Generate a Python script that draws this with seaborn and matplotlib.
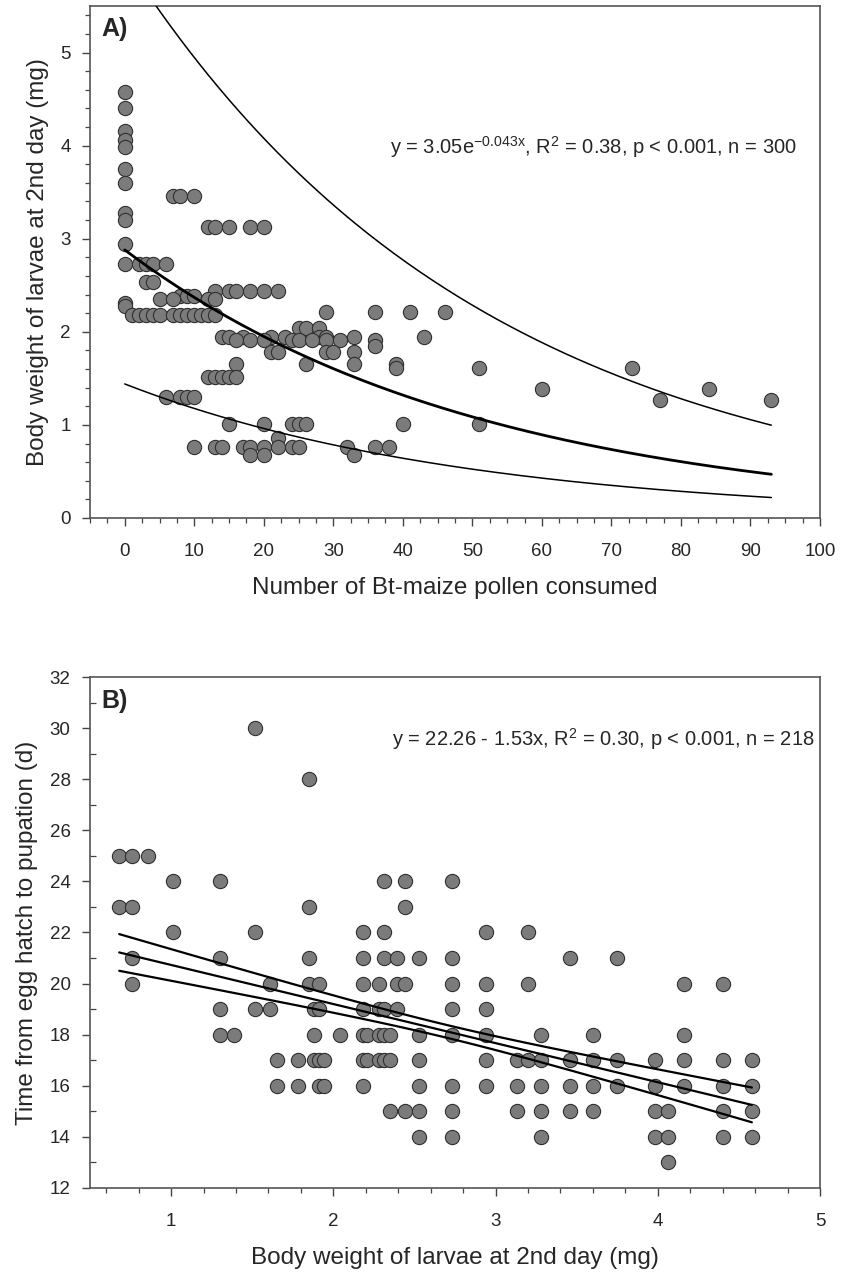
import numpy as np
import pandas as pd
import matplotlib
matplotlib.use('Agg')
import matplotlib.pyplot as plt
from matplotlib.ticker import MultipleLocator
import seaborn as sns

sns.set_style('ticks')
plt.rcParams['font.family'] = ['Liberation Sans', 'DejaVu Sans']

# ---- panel A: pollen consumed vs body weight at 2nd day ----
a_pollen = [0, 0, 0, 0, 0, 0, 0,
            7, 8, 10,
            0, 0,
            12, 13, 15, 18, 20,
            0,
            0, 2, 3, 4, 6,
            3, 4,
            13, 15, 16, 18, 20, 22,
            8, 9, 10,
            5, 7, 12, 13,
            0, 0,
            29, 36, 41, 46,
            1, 2, 3, 4, 5, 7, 8, 9, 10, 11, 12, 13,
            25, 26, 28,
            14, 15, 17, 21, 23, 28, 29, 33, 43,
            16, 18, 20, 24, 25, 27, 29, 31, 36,
            36,
            21, 22, 29, 30, 33,
            16, 26, 33, 39,
            39, 51, 73,
            12, 13, 14, 15, 16,
            60, 84,
            6, 8, 9, 10,
            77, 93,
            15, 20, 24, 25, 26, 40, 51,
            22,
            10, 13, 14, 17, 18, 20, 22, 24, 25, 32, 36, 38,
            18, 20, 33]
a_weight = [4.58, 4.40, 4.16, 4.06, 3.98, 3.75, 3.60,
            3.46, 3.46, 3.46,
            3.28, 3.20,
            3.13, 3.13, 3.13, 3.13, 3.13,
            2.94,
            2.73, 2.73, 2.73, 2.73, 2.73,
            2.53, 2.53,
            2.44, 2.44, 2.44, 2.44, 2.44, 2.44,
            2.39, 2.39, 2.39,
            2.35, 2.35, 2.35, 2.35,
            2.31, 2.28,
            2.21, 2.21, 2.21, 2.21,
            2.18, 2.18, 2.18, 2.18, 2.18, 2.18, 2.18, 2.18, 2.18, 2.18, 2.18, 2.18,
            2.04, 2.04, 2.04,
            1.94, 1.94, 1.94, 1.94, 1.94, 1.94, 1.94, 1.94, 1.94,
            1.91, 1.91, 1.91, 1.91, 1.91, 1.91, 1.91, 1.91, 1.91,
            1.85,
            1.78, 1.78, 1.78, 1.78, 1.78,
            1.65, 1.65, 1.65, 1.65,
            1.61, 1.61, 1.61,
            1.52, 1.52, 1.52, 1.52, 1.52,
            1.39, 1.39,
            1.30, 1.30, 1.30, 1.30,
            1.27, 1.27,
            1.01, 1.01, 1.01, 1.01, 1.01, 1.01, 1.01,
            0.86,
            0.76, 0.76, 0.76, 0.76, 0.76, 0.76, 0.76, 0.76, 0.76, 0.76, 0.76, 0.76,
            0.68, 0.68, 0.68]

# exponential fit and band curves: (start value, decay rate)
a_fit = [2.88, 0.0195]
a_upper = [6.0, 0.0193]
a_lower = [1.44, 0.0202]
a_fit_range = [0, 93]

# ---- panel B: body weight vs days to pupation ----
b_weight = [0.68, 0.76, 0.86,
            1.01, 1.30, 2.31, 2.44, 2.73,
            0.68, 0.76, 1.85, 2.44,
            1.01, 1.52, 2.18, 2.31, 2.94, 3.20,
            0.76, 1.30, 1.85, 2.18, 2.31, 2.39, 2.53, 2.73, 3.46, 3.75,
            0.76, 1.61, 1.85, 1.91, 2.18, 2.28, 2.39, 2.44, 2.73, 2.94, 3.20, 4.16, 4.40,
            1.30, 1.52, 1.61, 1.88, 1.91, 2.18, 2.28, 2.31, 2.39, 2.73, 2.94,
            1.30, 1.39, 1.88, 2.04, 2.18, 2.21, 2.28, 2.31, 2.35, 2.53, 2.73, 2.94, 3.28, 3.60, 4.16,
            1.65, 1.78, 1.88, 1.91, 1.94, 2.18, 2.21, 2.28, 2.31, 2.35, 2.53, 2.94, 3.13, 3.20,
            3.28, 3.46, 3.60, 3.75, 3.98, 4.16, 4.40, 4.58,
            1.65, 1.78, 1.91, 1.94, 2.18, 2.53, 2.73, 2.94, 3.13, 3.28, 3.46, 3.60, 3.75, 3.98,
            4.16, 4.40, 4.58,
            2.35, 2.44, 2.53, 2.73, 3.13, 3.28, 3.46, 3.60, 3.98, 4.06, 4.40, 4.58,
            2.53, 2.73, 3.28, 3.98, 4.06, 4.40, 4.58,
            4.06,
            1.52, 1.85]
b_days = [25] * 3 + [24] * 5 + [23] * 4 + [22] * 6 + [21] * 10 + [20] * 13 + [19] * 11 \
    + [18] * 15 + [17] * 22 + [16] * 17 + [15] * 12 + [14] * 7 + [13] + [30, 28]

# linear fit from the panel text and 95% band (min half-width, slope term, centre)
b_fit = [22.26, -1.53]
b_band = [0.25, 0.335, 2.69]
b_fit_range = [0.68, 4.58]

df_a = pd.DataFrame({'pollen': a_pollen, 'weight': a_weight})
df_b = pd.DataFrame({'weight': b_weight, 'days': b_days})

fig = plt.figure(figsize=(8.43, 12.77), dpi=100)
axA = fig.add_axes([90 / 843, 1 - 518 / 1277, 730 / 843, 512 / 1277])
axB = fig.add_axes([90 / 843, 1 - 1188 / 1277, 730 / 843, 511 / 1277])

pt_kw = dict(s=105, color='#7b7b7b', edgecolor='#303030', linewidth=0.8, zorder=3, legend=False)

# panel A
sns.scatterplot(data=df_a, x='pollen', y='weight', ax=axA, **pt_kw)
xs = np.linspace(a_fit_range[0], a_fit_range[1], 200)
for (a0, k), lw in [(a_fit, 2.0), (a_upper, 1.1), (a_lower, 1.1)]:
    sns.lineplot(x=xs, y=a0 * np.exp(-k * xs), ax=axA, color='black', lw=lw, zorder=4)
axA.set_xlim(-5, 100)
axA.set_ylim(0, 5.5)
axA.xaxis.set_major_locator(MultipleLocator(10))
axA.xaxis.set_minor_locator(MultipleLocator(2.5))
axA.yaxis.set_major_locator(MultipleLocator(1))
axA.yaxis.set_minor_locator(MultipleLocator(0.2))
axA.set_xlabel('Number of Bt-maize pollen consumed', fontsize=17.5, labelpad=12)
axA.set_ylabel('Body weight of larvae at 2nd day (mg)', fontsize=17.5, labelpad=8)
axA.text(0.016, 0.955, 'A)', transform=axA.transAxes, fontsize=18, fontweight='bold', va='center')
axA.text(0.968, 0.725, r'y = 3.05e$^{\mathregular{-0.043x}}$, R$^{\mathregular{2}}$ = 0.38, p < 0.001, n = 300',
         transform=axA.transAxes, fontsize=14.5, ha='right', va='center')

# panel B
sns.scatterplot(data=df_b, x='weight', y='days', ax=axB, **pt_kw)
xb = np.linspace(b_fit_range[0], b_fit_range[1], 100)
yb = b_fit[0] + b_fit[1] * xb
half = np.sqrt(b_band[0] ** 2 + (b_band[1] * (xb - b_band[2])) ** 2)
for yy in (yb, yb + half, yb - half):
    sns.lineplot(x=xb, y=yy, ax=axB, color='black', lw=1.6, zorder=4)
axB.set_xlim(0.5, 5)
axB.set_ylim(12, 32)
axB.xaxis.set_major_locator(MultipleLocator(1))
axB.xaxis.set_minor_locator(MultipleLocator(0.2))
axB.yaxis.set_major_locator(MultipleLocator(2))
axB.yaxis.set_minor_locator(MultipleLocator(1))
axB.set_xlabel('Body weight of larvae at 2nd day (mg)', fontsize=17.5, labelpad=12)
axB.set_ylabel('Time from egg hatch to pupation (d)', fontsize=17.5, labelpad=8)
axB.text(0.016, 0.953, 'B)', transform=axB.transAxes, fontsize=18, fontweight='bold', va='center')
axB.text(0.993, 0.878, r'y = 22.26 - 1.53x, R$^{\mathregular{2}}$ = 0.30, p < 0.001, n = 218',
         transform=axB.transAxes, fontsize=14.5, ha='right', va='center')

for ax in (axA, axB):
    for sp in ax.spines.values():
        sp.set_visible(True)
        sp.set_color('#555555')
        sp.set_linewidth(1.2)
    ax.tick_params(which='major', direction='out', length=6, width=1, color='#444444',
                   labelsize=13.5, pad=12)
    ax.tick_params(which='minor', direction='out', length=3.5, width=0.9, color='#444444')
    ax.tick_params(axis='y', which='major', pad=8)
axB.tick_params(axis='y', which='minor', direction='in', length=4)

fig.savefig('out.png', dpi=100)
